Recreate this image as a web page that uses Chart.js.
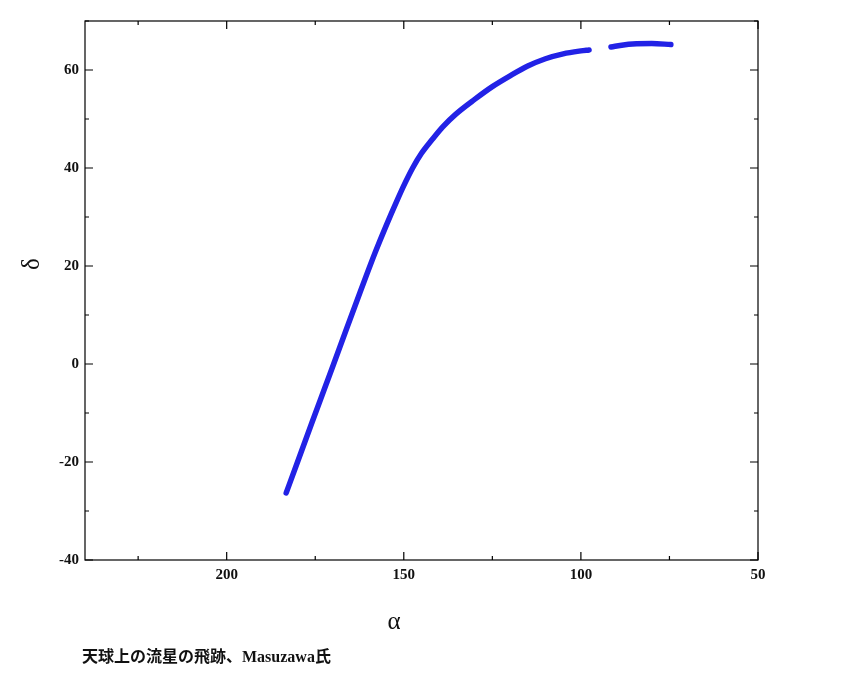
<!DOCTYPE html>
<html>
<head>
<meta charset="utf-8">
<script src="https://cdn.jsdelivr.net/npm/chart.js@4"></script>
<style>
  body { margin: 0; background: #fff; }
  #wrap { position: relative; width: 845px; height: 683px; }
  #caption {
    position: absolute; left: 82px; top: 643px;
    font: bold 16px "Liberation Serif", "Noto Sans CJK JP", serif;
    color: #111; white-space: nowrap;
  }
</style>
</head>
<body>
<div id="wrap">
  <canvas id="chart" width="845" height="683"></canvas>
  <div id="caption">天球上の流星の飛跡、Masuzawa氏</div>
</div>
<script>
// meteor track, right ascension (alpha) and declination (delta) in degrees
const alphaA = [183.2, 180, 176, 172, 169.8, 166, 162, 158, 155, 151.7, 150, 147.5, 145, 142, 139, 135.3, 130, 125, 120, 115, 110, 105, 100, 97.7];
const deltaA = [-26.3, -20.0, -12.1, -4.3, 0, 7.5, 15.3, 22.9, 28.2, 33.7, 36.4, 40.0, 43.0, 45.8, 48.4, 51.0, 54.0, 56.6, 58.8, 60.8, 62.3, 63.3, 63.9, 64.1];
const alphaB = [91.5, 88, 85.4, 80, 74.6];
const deltaB = [64.7, 65.1, 65.3, 65.4, 65.2];

const xTicks = [50, 100, 150, 200];
const yTicks = [-40, -20, 0, 20, 40, 60];

const toPts = (xs, ys) => xs.map((x, i) => ({ x: x, y: ys[i] }));

const lineColor = "#2222e6";
const tickFont = { family: "Liberation Serif", size: 15, weight: "bold" };

// inward ticks on all four sides, major + minor, plus frame and axis symbols
const framePlugin = {
  id: "frame",
  afterDraw(chart) {
    const ctx = chart.ctx;
    const a = chart.chartArea;
    const xs = chart.scales.x, ys = chart.scales.y;
    ctx.save();
    ctx.strokeStyle = "#000";
    ctx.lineWidth = 1.2;
    ctx.strokeRect(a.left, a.top, a.right - a.left, a.bottom - a.top);

    ctx.beginPath();
    for (let v = 50; v <= 240; v += 25) {
      const px = xs.getPixelForValue(v);
      const len = v % 50 === 0 ? 8 : 4;
      ctx.moveTo(px, a.bottom); ctx.lineTo(px, a.bottom - len);
      ctx.moveTo(px, a.top); ctx.lineTo(px, a.top + len);
    }
    for (let v = -40; v <= 70; v += 10) {
      const py = ys.getPixelForValue(v);
      const len = v % 20 === 0 ? 8 : 4;
      ctx.moveTo(a.left, py); ctx.lineTo(a.left + len, py);
      ctx.moveTo(a.right, py); ctx.lineTo(a.right - len, py);
    }
    ctx.stroke();

    ctx.fillStyle = "#111";
    ctx.font = "25px 'Liberation Serif'";
    ctx.textAlign = "center";
    ctx.textBaseline = "middle";
    ctx.fillText("α", 394, 622);
    ctx.translate(32, 264);
    ctx.rotate(-Math.PI / 2);
    ctx.fillText("δ", 0, 0);
    ctx.restore();
  }
};

const lineStyle = {
  showLine: true, borderColor: lineColor, borderWidth: 5.5, pointRadius: 0,
  cubicInterpolationMode: "monotone", borderCapStyle: "round", borderJoinStyle: "round"
};

new Chart(document.getElementById("chart"), {
  type: "scatter",
  plugins: [framePlugin],
  data: {
    datasets: [
      Object.assign({ data: toPts(alphaA, deltaA) }, lineStyle),
      Object.assign({ data: toPts(alphaB, deltaB) }, lineStyle)
    ]
  },
  options: {
    responsive: false,
    animation: false,
    layout: { padding: { left: 0, top: 21, right: 87, bottom: 0 } },
    plugins: { legend: { display: false }, tooltip: { enabled: false } },
    scales: {
      x: {
        type: "linear", reverse: true, min: 50, max: 240,
        afterBuildTicks: (s) => { s.ticks = xTicks.map(v => ({ value: v })); },
        afterFit: (s) => { s.height = 683 - 560; },
        grid: { display: false, drawTicks: false },
        border: { display: false },
        ticks: { font: tickFont, color: "#111", padding: 6, maxRotation: 0 }
      },
      y: {
        type: "linear", min: -40, max: 70,
        afterBuildTicks: (s) => { s.ticks = yTicks.map(v => ({ value: v })); },
        afterFit: (s) => { s.width = 85; },
        grid: { display: false, drawTicks: false },
        border: { display: false },
        ticks: { font: tickFont, color: "#111", padding: 6 }
      }
    }
  }
});
</script>
</body>
</html>
